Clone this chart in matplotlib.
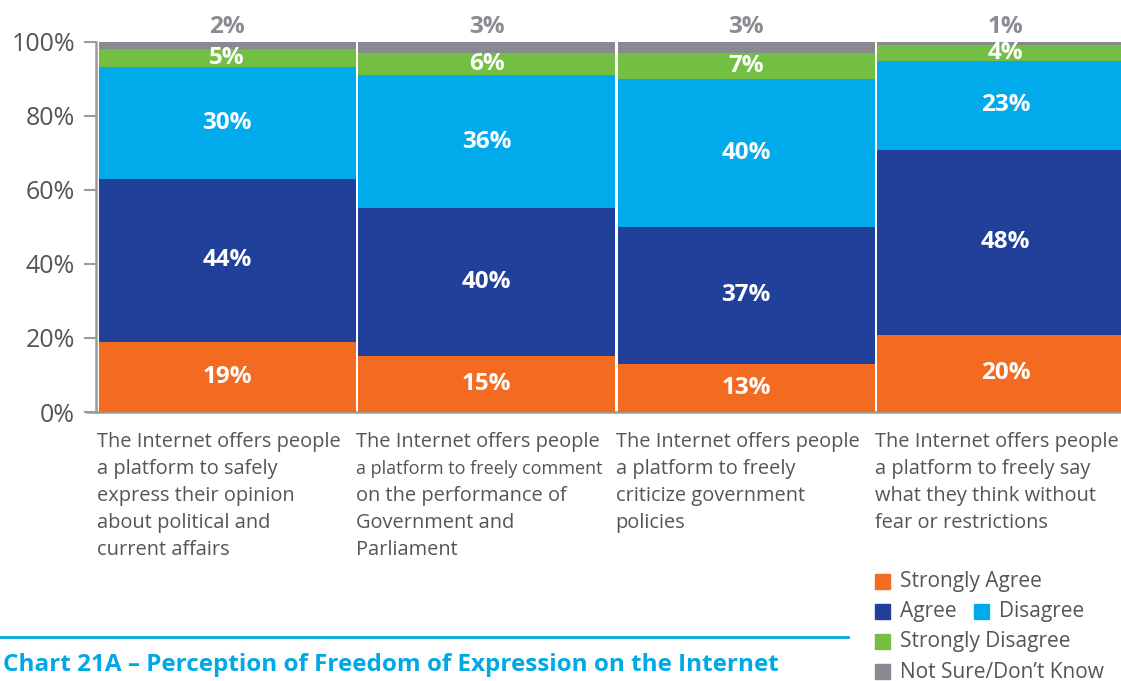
import numpy as np
import matplotlib
matplotlib.use("Agg")
import matplotlib.pyplot as plt
from matplotlib.patches import Rectangle

# Survey answers per statement (percent)
statements = [
    ["The Internet offers people", "a platform to safely", "express their opinion",
     "about political and", "current affairs"],
    ["The Internet offers people", "a platform to freely comment", "on the performance of",
     "Government and", "Parliament"],
    ["The Internet offers people", "a platform to freely", "criticize government", "policies"],
    ["The Internet offers people", "a platform to freely say", "what they think without",
     "fear or restrictions"],
]
strongly_agree = [19, 15, 13, 20]
agree = [44, 40, 37, 48]
disagree = [30, 36, 40, 23]
strongly_disagree = [5, 6, 7, 4]
not_sure = [2, 3, 3, 1]

series_names = ["Strongly Agree", "Agree", "Disagree", "Strongly Disagree", "Not Sure/Don\u2019t Know"]
colors = ["#f26b21", "#21409a", "#00aaeb", "#72bf44", "#878a91"]
y_ticks = [0, 20, 40, 60, 80, 100]
y_ticklabels = ["0%", "20%", "40%", "60%", "80%", "100%"]

FONT = "Open Sans"
TXT = "#555555"
GRID = "#9a9a9a"
TITLE_BLUE = "#00a9e6"

W, H = 1121, 681
fig = plt.figure(figsize=(W / 100, H / 100), dpi=100)


def fx(px):
    return px / W


def fy(py):
    return 1 - py / H


# axes reaches past the right edge so the last bar is cut off
ax = fig.add_axes([fx(96), fy(412), 1038 / W, (412 - 41.5) / H])

values = np.array([strongly_agree, agree, disagree, strongly_disagree, not_sure], dtype=float)
shares = values / values.sum(axis=0) * 100
x = np.arange(len(statements))
width = 0.99

bottom = np.zeros(len(x))
for i, (share, color) in enumerate(zip(shares, colors)):
    ax.bar(x, share, width, bottom=bottom, color=color, linewidth=0, zorder=2)
    for j in range(len(x)):
        if i == 4:
            ax.text(x[j], 104.0, f"{values[i, j]:.0f}%", ha="center", va="center",
                    fontsize=17.5, fontweight="bold", color="#8a8c91", family=FONT, clip_on=False)
        else:
            ax.text(x[j], bottom[j] + share[j] / 2, f"{values[i, j]:.0f}%", ha="center",
                    va="center", fontsize=17.5, fontweight="bold", color="white", family=FONT,
                    zorder=3)
    bottom += share

ax.set_xlim(-0.505, 3.495)
ax.set_ylim(0, 100)
ax.set_yticks(y_ticks)
ax.set_yticklabels(y_ticklabels, fontsize=18, color=TXT, family=FONT)
ax.tick_params(axis="y", length=9, width=1.5, color=GRID, pad=6)
ax.set_xticks([])
for side in ["top", "right"]:
    ax.spines[side].set_visible(False)
for side in ["left", "bottom"]:
    ax.spines[side].set_color(GRID)
    ax.spines[side].set_linewidth(1.8)
ax.spines["bottom"].set_bounds(-0.54, 3.6)
ax.spines["bottom"].set_zorder(1)

# statement text under each bar
for j, lines in enumerate(statements):
    for k, line in enumerate(lines):
        size = 13.0 if (j == 1 and k == 1) else 14.4
        ax.annotate(line, xy=(x[j] - width / 2, 0), xycoords="data",
                    xytext=(-1.5, -(30 + 27 * k) * 0.72), textcoords="offset points",
                    ha="left", va="center", fontsize=size, color=TXT, family=FONT,
                    annotation_clip=False)

# legend
legend_rows = [(582, [0]), (612, [1, 2]), (642, [3]), (672, [4])]
for py, idx in legend_rows:
    px = 875
    for n in idx:
        fig.patches.append(Rectangle((fx(px), fy(py + 7)), 15 / W, 15 / H,
                                     transform=fig.transFigure, color=colors[n]))
        fig.text(fx(px + 25), fy(py), series_names[n], ha="left", va="center",
                 fontsize=15, color=TXT, family=FONT)
        px = 974

# title and rule
fig.add_artist(plt.Line2D([0, fx(848)], [fy(637), fy(637)], color=TITLE_BLUE, linewidth=2,
                          transform=fig.transFigure))
fig.text(fx(3), fy(665), "Chart 21A \u2013 Perception of Freedom of Expression on the Internet",
         ha="left", va="center", fontsize=17.5, fontweight="bold", color=TITLE_BLUE,
         family=FONT)

fig.savefig("out.png", dpi=100)
